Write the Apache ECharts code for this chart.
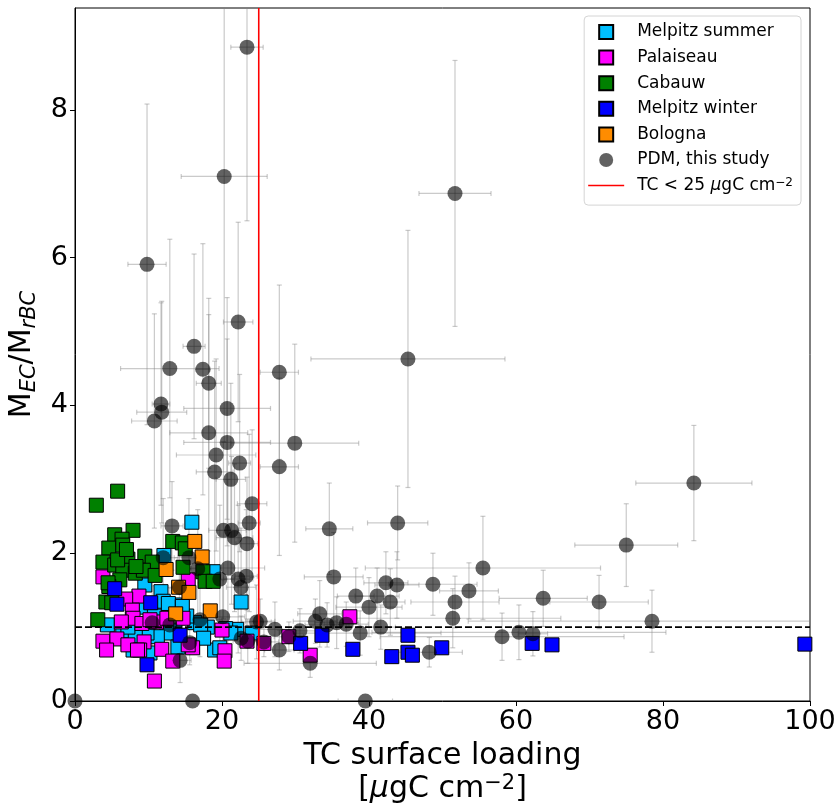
<!DOCTYPE html>
<html><head><meta charset="utf-8">
<script src="https://cdn.jsdelivr.net/npm/echarts@6/dist/echarts.min.js"></script>
<style>html,body{margin:0;padding:0;background:#fff}#c{width:837px;height:803px}</style>
</head><body><div id="c"></div><script>
const xTicks = [0, 20, 40, 60, 80, 100];
const yTicks = [0, 2, 4, 6, 8];
const xMax = 100;
const yMax = 9.38;
const tcLimit = 25;
const ratioRef = 1;

const melpitzSummer = [[15.9,2.42],[22.6,1.34],[12.1,1.97],[9.5,1.57],[11.7,1.48],[18.8,1.75],[4.4,1.03],[9.3,1.27],[13.6,1.30],[13.6,0.96],[12.5,0.92],[11.2,0.87],[9.8,0.92],[7.9,0.69],[10.2,0.65],[14.0,0.73],[16.3,1.06],[18.0,1.00],[19.0,0.69],[22.0,0.97],[19.7,0.72],[24.1,0.92],[17.1,1.03],[20.5,0.98],[6.5,0.95],[8.2,0.88],[10.8,1.15],[15.2,1.15],[17.5,0.85],[12.0,1.35],[7.2,1.0],[21.2,0.92],[12.7,1.32],[14.6,1.28]];
const palaiseau = [[3.8,1.68],[15.4,1.64],[8.7,1.42],[6.9,1.38],[7.8,1.23],[7.9,1.12],[6.3,1.07],[9.1,1.05],[11.1,1.07],[14.7,1.12],[20.0,0.96],[3.8,0.81],[5.7,0.84],[7.2,0.76],[9.4,0.80],[8.8,0.69],[11.8,0.70],[16.0,0.72],[15.4,0.76],[13.3,0.54],[20.4,0.68],[20.3,0.54],[10.8,0.27],[4.3,0.69],[8.5,0.69],[23.4,0.81],[25.7,0.78],[29.1,0.87],[32.0,0.62],[37.4,1.14],[12.5,1.12],[10.2,1.10]];
const cabauw = [[5.8,2.84],[2.9,2.65],[7.9,2.31],[5.4,2.25],[6.4,2.19],[4.6,2.07],[6.5,2.11],[7.2,1.92],[3.8,1.88],[5.4,1.84],[9.5,1.96],[10.5,1.88],[6.5,1.77],[8.2,1.73],[9.3,1.77],[10.9,1.70],[13.3,2.16],[14.6,2.14],[15.0,2.06],[14.7,1.81],[17.4,1.75],[17.7,1.62],[18.8,1.62],[6.1,1.64],[4.6,1.55],[4.2,1.34],[5.0,1.33],[3.1,1.10],[5.8,1.91],[8.3,1.82],[4.5,1.60],[7.0,2.05]];
const melpitzWinter = [[5.4,1.52],[5.7,1.31],[10.3,1.33],[14.3,0.89],[9.8,0.49],[30.7,0.78],[33.6,0.89],[37.8,0.70],[45.3,0.89],[43.1,0.60],[45.3,0.66],[45.9,0.62],[49.9,0.72],[62.2,0.78],[64.9,0.76],[99.3,0.77]];
const bologna = [[16.3,2.16],[17.3,1.95],[12.4,1.78],[14.1,1.54],[15.5,1.47],[13.7,1.18],[18.4,1.22]];
// [TC, ratio, TC error, ratio error]
const pdm = [
[23.4,8.85,2.2,2.35],[20.3,7.10,5.85,3.6],[9.8,5.91,2.6,2.17],[51.7,6.87,4.9,1.8],[45.3,4.63,13.2,1.74],
[22.2,5.13,2.0,1.35],[16.2,4.80,1.5,1.25],[12.9,4.50,6.7,1.75],[17.4,4.49,1.0,1.7],[27.8,4.45,2.6,1.18],
[18.2,4.30,1.7,1.15],[11.7,4.02,1.2,1.37],[11.8,3.91,3.4,1.5],[10.8,3.79,3.1,1.45],[20.7,3.96,5.9,1.5],
[29.9,3.49,8.7,1.34],[18.2,3.63,5.3,1.6],[20.7,3.50,5.9,1.4],[19.2,3.33,5.4,1.3],[22.4,3.22,1.5,1.2],
[19.0,3.10,2.5,1.5],[27.8,3.17,2.6,1.2],[21.2,3.00,2.0,1.3],[24.1,2.67,2.0,1.0],[84.2,2.95,7.9,0.78],
[75.0,2.11,7.0,0.56],[71.3,1.34,6.7,0.36],[78.5,1.08,25,0.42],[63.7,1.39,6.0,0.38],[34.6,2.33,3.2,0.62],
[43.9,2.41,4.1,0.5],[35.2,1.68,4.0,0.6],[55.5,1.80,16,0.7],[42.3,1.60,3.0,0.42],[43.8,1.57,3.0,0.45],
[48.7,1.58,6.0,0.42],[38.2,1.42,2.5,0.38],[41.1,1.42,3.0,0.38],[40.0,1.27,4.5,0.4],[42.9,1.34,2.0,0.45],
[51.7,1.34,6.0,0.35],[53.6,1.49,4.0,0.38],[51.4,1.12,14.7,0.4],[33.3,1.18,3.0,0.45],[32.7,1.08,3.0,0.3],
[34.3,1.03,3.0,0.3],[35.6,1.06,3.0,0.35],[36.9,1.04,3.0,0.3],[41.6,1.00,2.0,0.3],[38.8,0.92,11,0.3],
[27.2,0.97,2.5,0.37],[25.2,1.08,2.0,0.3],[30.6,0.95,2.5,0.3],[27.8,0.69,2.0,0.27],[32.0,0.51,9.0,0.19],
[48.2,0.66,4.5,0.2],[58.1,0.87,16.6,0.32],[60.4,0.93,20,0.37],[62.3,0.91,2.0,0.3],[39.5,0.0,3.7,0],
[29.1,0.87,2.0,0.2],[25.7,0.80,2.0,0.2],[13.2,2.37,1.5,0.6],[23.7,2.41,1.5,1.2],[20.2,2.31,2.0,1.2],
[21.3,2.31,2.0,1.0],[21.7,2.21,2.5,1.0],[23.4,2.13,1.5,0.9],[20.8,1.80,5.0,1.2],[23.3,1.69,1.5,0.9],
[22.2,1.65,2.0,1.0],[22.6,1.54,2.0,0.8],[19.7,1.65,2.0,1.0],[20.1,1.14,3.0,0.5],[24.7,1.07,2.0,0.5],
[17.0,1.10,3.0,0.5],[12.9,1.03,2.5,0.5],[10.5,1.06,2.0,0.5],[14.3,0.55,1.5,0.3],[15.6,0.79,2.0,0.3],
[12.0,1.94,2.0,0.8],[15.5,1.94,2.0,0.8],[16.7,1.79,2.5,0.8],[14.2,1.54,2.0,0.6],[22.6,0.85,2.0,0.3],
[23.5,0.81,2.0,0.3],[0,0,0,0],[16.0,0,0,0]
];

const names = ['Melpitz summer','Palaiseau','Cabauw','Melpitz winter','Bologna','PDM, this study','TC < 25 μgC cm⁻²'];
const FONT = 'DejaVu Sans';
const chart = echarts.init(document.getElementById('c'));

function sq(name, data, color) {
  return {type:'scatter', name, data, symbol:'rect', symbolSize:14, z:3,
    itemStyle:{color, borderColor:'#000', borderWidth:1, opacity:1}};
}
const sqIcon = 'path://M0,0H10V10H0Z';
const lineIcon = 'path://M0,0H36V1.5H0Z';

chart.setOption({
  animation:false,
  grid:{left:75, right:27, top:8, bottom:102, show:true, borderColor:'#000', borderWidth:1,
    backgroundColor:'transparent', containLabel:false, outerBoundsMode:'none'},
  xAxis:{type:'value', min:0, max:xMax, interval:20,
    axisLine:{show:true, onZero:false, lineStyle:{color:'#000', width:1}},
    axisTick:{show:true, inside:false, length:5, lineStyle:{color:'#000', width:1}, customValues:xTicks},
    axisLabel:{fontSize:27, color:'#000', fontFamily:FONT, margin:7, customValues:xTicks},
    splitLine:{show:false},
    name:'{a|TC surface loading}\n{a|[}{i|μ}{a|gC cm}{sup|−2}{a|]}',
    nameLocation:'middle', nameGap:39,
    nameTextStyle:{fontFamily:FONT, color:'#000', rich:{
      a:{fontSize:30, fontFamily:FONT, color:'#000', lineHeight:33},
      i:{fontSize:30, fontFamily:FONT, fontStyle:'italic', color:'#000', lineHeight:33},
      sup:{fontSize:21, fontFamily:FONT, color:'#000', lineHeight:21, verticalAlign:'top'}
    }}
  },
  yAxis:{type:'value', min:0, max:yMax, interval:2,
    axisLine:{show:true, onZero:false, lineStyle:{color:'#000', width:1}},
    axisTick:{show:true, inside:false, length:5, lineStyle:{color:'#000', width:1}, customValues:yTicks},
    axisLabel:{fontSize:27, color:'#000', fontFamily:FONT, margin:7, customValues:yTicks},
    splitLine:{show:false},
    name:'{a|M}{sub|EC}{a|/M}{sub|rBC}',
    nameLocation:'middle', nameGap:24, nameRotate:90,
    nameTextStyle:{fontFamily:FONT, color:'#000', rich:{
      a:{fontSize:30, fontFamily:FONT, color:'#000', lineHeight:36},
      sub:{fontSize:21, fontFamily:FONT, fontStyle:'italic', color:'#000', lineHeight:21, verticalAlign:'bottom'}
    }}
  },
  legend:{orient:'vertical', right:36, top:16, itemWidth:36, itemHeight:14, itemGap:8.6,
    padding:[7.5,8,11,4], backgroundColor:'#fff', borderColor:'#d4d4d4', borderWidth:1, borderRadius:4,
    textStyle:{fontSize:17, fontFamily:FONT, color:'#000', padding:[0,0,0,8], rich:{
      a:{fontSize:17, fontFamily:FONT, color:'#000'},
      i:{fontSize:17, fontFamily:FONT, fontStyle:'italic', color:'#000'},
      sup:{fontSize:12, fontFamily:FONT, color:'#000', verticalAlign:'top', lineHeight:12}
    }},
    formatter:function(n){
      if (n === names[6]) return '{a|TC < 25 }{i|μ}{a|gC cm}{sup|−2}';
      return n;
    },
    data:[
      {name:names[0], icon:sqIcon},{name:names[1], icon:sqIcon},{name:names[2], icon:sqIcon},
      {name:names[3], icon:sqIcon},{name:names[4], icon:sqIcon},{name:names[5], icon:'circle'},
      {name:names[6], icon:lineIcon, itemStyle:{color:'#ff0000', borderWidth:0}}
    ]
  },
  series:[
    {type:'custom', name:'errors', data:pdm, z:1, clip:true, silent:true,
      encode:{x:0, y:1},
      renderItem:function(params, api){
        const x=api.value(0), y=api.value(1), ex=api.value(2), ey=api.value(3);
        const l=api.coord([x-ex,y]), r=api.coord([x+ex,y]);
        const t=api.coord([x,y+ey]), b=api.coord([x,y-ey]);
        const cap=2.5;
        const st={stroke:'rgba(128,128,128,0.42)', lineWidth:1.2, fill:null};
        const ch=[];
        if (ex>0){
          ch.push({type:'line', shape:{x1:l[0],y1:l[1],x2:r[0],y2:r[1]}, style:st});
          ch.push({type:'line', shape:{x1:l[0],y1:l[1]-cap,x2:l[0],y2:l[1]+cap}, style:st});
          ch.push({type:'line', shape:{x1:r[0],y1:r[1]-cap,x2:r[0],y2:r[1]+cap}, style:st});
        }
        if (ey>0){
          ch.push({type:'line', shape:{x1:t[0],y1:t[1],x2:b[0],y2:b[1]}, style:st});
          ch.push({type:'line', shape:{x1:t[0]-cap,y1:t[1],x2:t[0]+cap,y2:t[1]}, style:st});
          ch.push({type:'line', shape:{x1:b[0]-cap,y1:b[1],x2:b[0]+cap,y2:b[1]}, style:st});
        }
        return {type:'group', children:ch};
      }
    },
    sq(names[0], melpitzSummer, '#00bfff'),
    sq(names[1], palaiseau, '#ff00ff'),
    sq(names[2], cabauw, '#008000'),
    sq(names[3], melpitzWinter, '#0000ff'),
    sq(names[4], bologna, '#ff8c00'),
    {type:'scatter', name:names[5], data:pdm, encode:{x:0, y:1}, symbol:'circle', symbolSize:15, z:4,
      itemStyle:{color:'rgba(0,0,0,0.77)', borderWidth:0}},
    {type:'line', name:names[6], data:[[tcLimit,0],[tcLimit,yMax]], symbol:'none', z:5,
      color:'#ff0000', lineStyle:{color:'#ff0000', width:1.6}, itemStyle:{color:'#ff0000'}},
    {type:'line', name:'ref', data:[[0,ratioRef],[xMax,ratioRef]], symbol:'none', z:5,
      lineStyle:{color:'#000', width:1.6, type:[7,3]}}
  ]
});
</script></body></html>
